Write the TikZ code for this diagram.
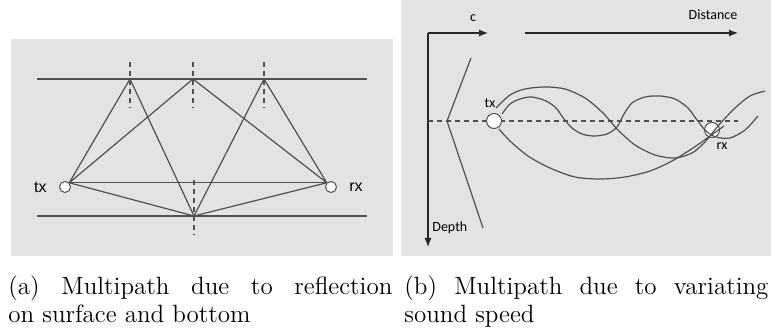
\documentclass[tikz,border=0pt]{standalone}
\usepackage{fontspec}
\usetikzlibrary{arrows.meta, positioning}
\newfontfamily\arialfont{Liberation Sans}
\newfontfamily\calibrifont{Carlito}
\definecolor{panelGray}{HTML}{E3E3E3}
\definecolor{rayDark}{HTML}{505050}
\tikzset{
  ray/.style={draw=rayDark, line width=0.6pt},
  normalLine/.style={draw=rayDark, line width=0.6pt, dash pattern=on 2.5pt off 2pt},
  axisArrow/.style={-{Latex[length=4.5pt, width=3.5pt]}, draw=black!85, line width=0.6pt},
  station/.style={circle, draw=rayDark, fill=white, line width=0.5pt,
                  minimum size=5.5pt, inner sep=0pt},
  stationB/.style={station, minimum size=7.5pt},
  lblA/.style={font=\arialfont\fontsize{8}{9}\selectfont, inner sep=1pt},
  lblB/.style={font=\calibrifont\fontsize{7}{8}\selectfont, inner sep=1pt},
  capText/.style={font=\fontsize{12.5}{14.2}\selectfont, text width=#1, align=justify,
                  inner sep=0pt, anchor=north west},
}

\begin{document}
\begin{tikzpicture}[x=0.5pt, y=-0.5pt]
  \useasboundingbox (0,0) rectangle (771,336);

  % (a) reflections on surface and bottom
  \fill[panelGray] (11,39) rectangle (393,256);
  \draw[ray] (37,79) -- (367,79);
  \draw[ray] (37,216) -- (367,216);
  \coordinate (s1) at (130,79);
  \coordinate (s2) at (193,79);
  \coordinate (s3) at (264,79);
  \coordinate (b1) at (194,216);
  \foreach \p in {s1,s2,s3}
    \draw[normalLine] ([yshift=8.5pt]\p) -- ([yshift=-14.5pt]\p);
  \draw[normalLine] ([yshift=18pt]b1) -- ([yshift=-9.5pt]b1);
  \node[station] (txa) at (65,187) {};
  \node[station] (rxa) at (331,187) {};
  \node[lblA, left=5pt of txa] (txaLbl) {tx};
  \node[lblA, right=5pt of rxa] (rxaLbl) {rx};
  \draw[ray] (txa.north east) -- (s1) -- (b1) -- (s3) -- (rxa.north west);
  \draw[ray] (txa.north east) -- (s2) -- (rxa.north west);
  \draw[ray] (txa.north east) -- (rxa.north west);
  \draw[ray] (txa.north east) -- (b1) -- (rxa.north west);

  % (b) sound speed profile
  \fill[panelGray] (401,0) rectangle (771,256);
  \coordinate (o) at (428,33);
  \coordinate (depthEnd) at (428,247);
  \coordinate (cEnd) at (488,33);
  \coordinate (dist0) at (525,33);
  \coordinate (dist1) at (738,33);
  \draw[axisArrow] (o) -- (depthEnd);
  \draw[axisArrow] (o) -- (cEnd);
  \draw[axisArrow] (dist0) -- (dist1);
  \node[lblB] (cLbl) at (473,18) {c};
  \node[lblB] (distLbl) at (713,15) {Distance};
  \node[lblB, anchor=west] (depthLbl) at (430,228) {Depth};
  \draw[ray] (471,58) -- (447,121) -- (483,228);
  \draw[normalLine] (428,121) -- (738,121);
  \node[stationB] (rxb) at (712,130) {};
  \draw[ray] plot[smooth] coordinates {(496,108) (510,95) (525,89) (545,87)
    (565,89) (585,98) (603,113) (618,130) (635,145) (655,155) (675,158)
    (692,153) (705,142) (718,126) (735,108) (750,96) (765,91)};
  \draw[ray] plot[smooth] coordinates {(502,114) (510,104) (520,99) (532,97)
    (546,101) (556,108) (564,119) (572,128) (582,134) (594,136) (607,134)
    (617,127) (624,114) (632,103) (645,97) (660,96) (675,99) (688,108)
    (697,120) (706,131) (716,137) (730,138) (745,130) (758,116)};
  \draw[ray] plot[smooth] coordinates {(499,129) (510,141) (528,156) (550,168)
    (575,177) (600,179) (625,177) (650,171) (672,161) (693,148) (710,136)
    (724,126)};
  \node[stationB] (txb) at (494,121) {};
  \node[lblB] (txbLbl) at (490,103) {tx};
  \node[lblB] (rxbLbl) at (722,146) {rx};

  % captions
  \node[capText=192pt] (capA) at (8,275)
    {(a) Multipath due to reflection\linebreak on surface and bottom};
  \node[capText=182pt] (capB) at (404,275)
    {(b) Multipath due to variating\linebreak sound speed};
\end{tikzpicture}
\end{document}
